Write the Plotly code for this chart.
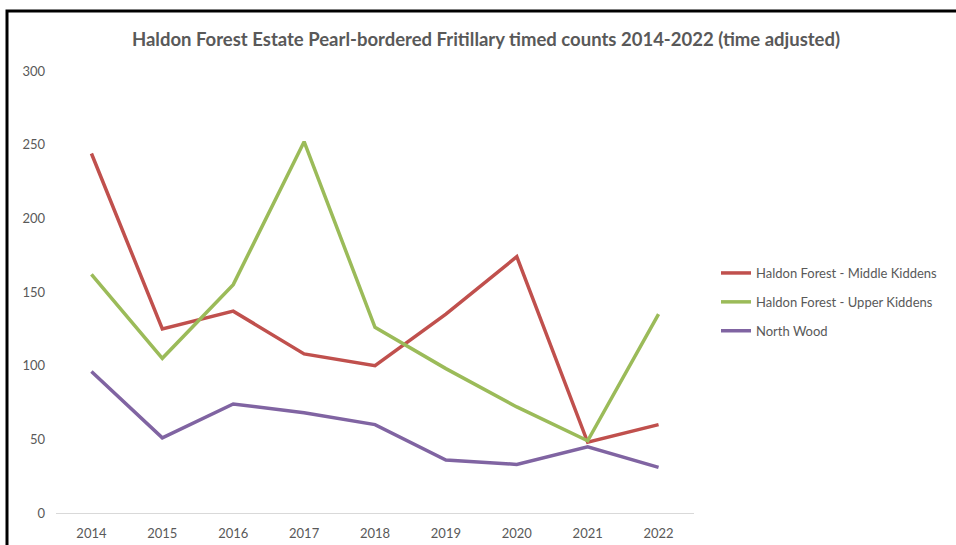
import plotly.graph_objects as go

years = ["2014", "2015", "2016", "2017", "2018", "2019", "2020", "2021", "2022"]
middle_kiddens = [244, 125, 137, 108, 100, 135, 174, 48, 60]
upper_kiddens = [162, 105, 155, 252, 126, 98, 72, 49, 135]
north_wood = [96, 51, 74, 68, 60, 36, 33, 45, 31]

series_names = ["Haldon Forest - Middle Kiddens", "Haldon Forest - Upper Kiddens", "North Wood"]
series_values = [middle_kiddens, upper_kiddens, north_wood]
series_colors = ["#C0504D", "#9BBB59", "#8064A2"]

FONT = "Lato"
GREY = "#595959"

fig = go.Figure()
for i, (name, vals, col) in enumerate(zip(series_names, series_values, series_colors)):
    fig.add_trace(go.Scatter(x=years, y=vals, mode="lines", name=name, legendgroup=f"g{i}",
                             line=dict(color=col, width=3.5)))

W, H = 956, 545
L, R, T, B = 56, 262, 71, 32
pw, ph = W - L - R, H - T - B

def px(x):
    return (x - L) / pw

def py(y):
    return (H - B - y) / ph

fig.update_layout(
    width=W, height=H,
    margin=dict(l=L, r=R, t=T, b=B, autoexpand=False),
    paper_bgcolor="white", plot_bgcolor="white",
    font=dict(family=FONT, color=GREY, size=13),
    title=dict(text="<b>Haldon Forest Estate Pearl-bordered Fritillary timed counts 2014-2022 (time adjusted)</b>",
               x=486 / W, xanchor="center", y=1 - 40 / H, yanchor="middle",
               font=dict(family=FONT, size=18.5, color=GREY)),
    xaxis=dict(type="category", range=[-0.5, len(years) - 0.5], showgrid=False, showline=True,
               linecolor="#D9D9D9", linewidth=1, automargin=False,
               ticks="", tickfont=dict(size=13, color=GREY), ticklabelstandoff=8, zeroline=False),
    yaxis=dict(range=[0, 300], dtick=50, showgrid=False, showline=False, zeroline=False,
               automargin=False,
               ticks="", tickfont=dict(size=13, color=GREY), ticklabelstandoff=10),
    legend=dict(x=px(716), xanchor="left", y=py(258), yanchor="top", tracegroupgap=9,
                font=dict(size=13, color=GREY), bgcolor="rgba(0,0,0,0)", itemwidth=30),
    showlegend=True,
)

fig.add_shape(type="path", xref="paper", yref="paper",
              path=f"M {px(7)} {py(560)} L {px(7)} {py(11)} L {px(990)} {py(11)}",
              line=dict(color="black", width=3))

fig.write_html("out.html", post_script="document.body.style.margin='0';",
               config={"displayModeBar": False})
